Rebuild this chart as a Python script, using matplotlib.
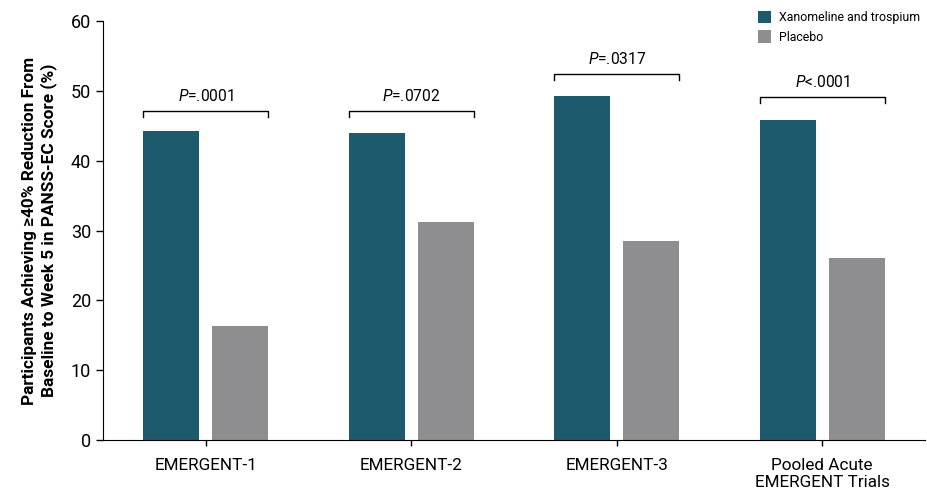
import matplotlib.pyplot as plt
import numpy as np

plt.rcParams["font.family"] = ["Roboto", "DejaVu Sans"]
plt.rcParams["mathtext.fontset"] = "custom"
plt.rcParams["mathtext.rm"] = "Roboto"
plt.rcParams["mathtext.it"] = "Roboto:italic"

groups = ["EMERGENT-1", "EMERGENT-2", "EMERGENT-3", "Pooled Acute\nEMERGENT Trials"]
xanomeline = [44.3, 44.0, 49.3, 45.8]
placebo = [16.3, 31.2, 28.5, 26.1]
p_labels = [r"$\it{P}$=.0001", r"$\it{P}$=.0702", r"$\it{P}$=.0317", r"$\it{P}$<.0001"]
bracket_y = [47.1, 47.1, 52.4, 49.1]

TEAL = "#1d5a6e"
GREY = "#8e8e90"

fig = plt.figure(figsize=(9.28, 4.96), dpi=100)
ax = fig.add_axes([103 / 928, 56 / 496, 822 / 928, 419 / 496])

x = np.arange(len(groups))
w = 0.272
off = 0.168
ax.bar(x - off, xanomeline, w, color=TEAL, label="Xanomeline and trospium")
ax.bar(x + off, placebo, w, color=GREY, label="Placebo")

for xi, by, lab in zip(x, bracket_y, p_labels):
    x0, x1 = xi - off - w / 2, xi + off + w / 2
    ax.plot([x0, x0, x1, x1], [by - 0.8, by, by, by - 0.8], color="black", lw=1.0)
    ax.text(xi, by + 1.0, lab, ha="center", va="bottom", fontsize=11.2)

ax.set_xlim(-0.5, 3.5)
ax.set_ylim(0, 60)
ax.set_yticks(range(0, 61, 10))
ax.set_xticks(x)
ax.set_xticklabels(groups, fontsize=12.3, linespacing=1.15)
ax.tick_params(axis="x", length=4, width=1, pad=9)
ax.tick_params(axis="y", labelsize=13, length=5, width=1)
for s in ["top", "right"]:
    ax.spines[s].set_visible(False)
ax.set_ylabel("Participants Achieving ≥40% Reduction From\nBaseline to Week 5 in PANSS-EC Score (%)",
              fontsize=12.4, fontweight="bold", labelpad=10)

ax.legend(loc="upper left", bbox_to_anchor=(747 / 928, 1.0), bbox_transform=fig.transFigure,
          frameon=False, fontsize=8.9, handlelength=1.1, handleheight=1.2, handletextpad=0.6,
          labelspacing=0.5, borderaxespad=0.45)

fig.savefig("out.png", dpi=100)
